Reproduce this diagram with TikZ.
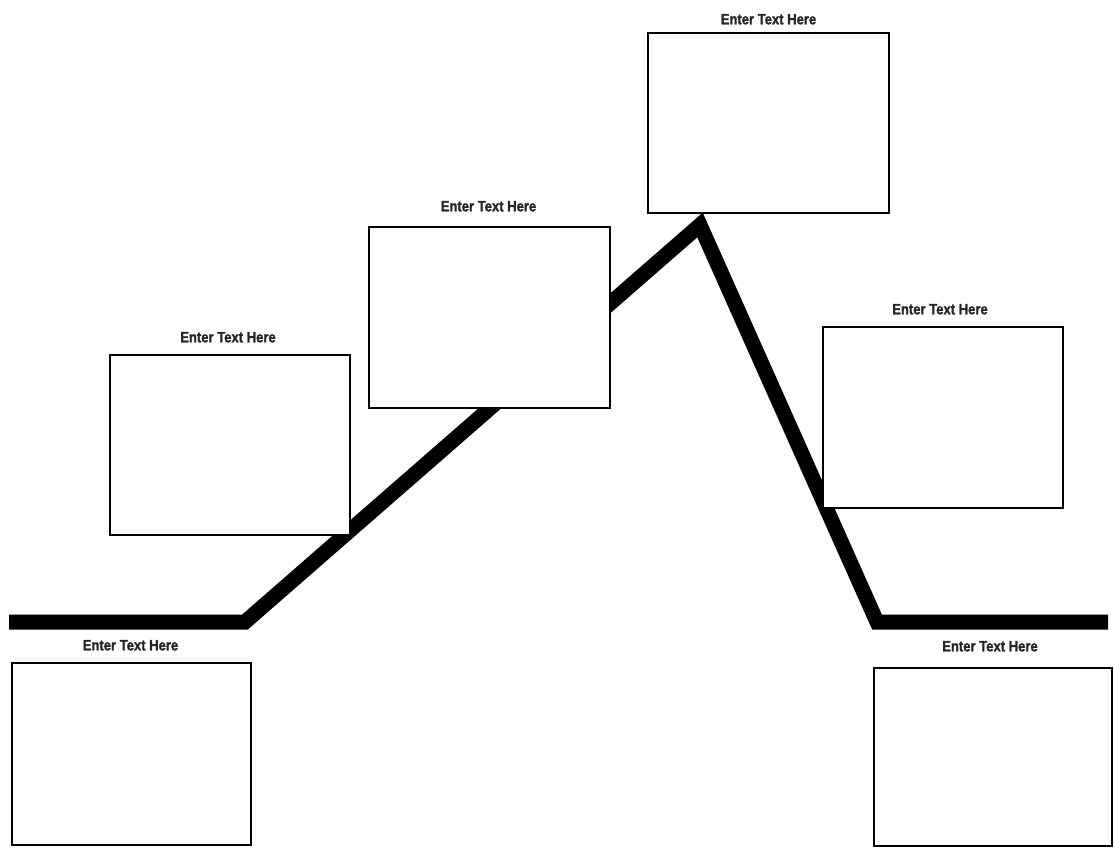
\documentclass[tikz,border=0pt]{standalone}
\usepackage{fontspec}
\newfontfamily\lblfont[FakeStretch=0.87,FakeBold=1.5]{Liberation Sans Bold}
\usetikzlibrary{positioning}
\tikzset{
  plotbox/.style={draw=black, line width=2.6pt, fill=white, rectangle,
    minimum width=240pt, minimum height=181pt, inner sep=0pt},
  lbl/.style={inner sep=0pt, font=\lblfont\fontsize{15}{15}\selectfont, text=black!85},
  plotline/.style={line width=15pt, line join=miter, line cap=butt, black}
}
\begin{document}
\begin{tikzpicture}[x=1pt,y=-1pt]
\useasboundingbox (0,0) rectangle (1114,848);
% plot line
\coordinate (start) at (9,622);
\coordinate (rise) at (245,622);
\coordinate (peak) at (700,225);
\coordinate (fall) at (877,622);
\coordinate (end) at (1108,622);
\draw[plotline] (start) -- (rise) -- (peak) -- (fall) -- (end);
% boxes
\node[plotbox, minimum width=239pt, minimum height=182pt] (b1) at (131.5,754) {};
\node[plotbox, minimum height=180pt] (b2) at (230,445) {};
\node[plotbox, minimum width=241pt] (b3) at (489.5,317.5) {};
\node[plotbox, minimum width=241pt, minimum height=180pt] (b4) at (768.5,123) {};
\node[plotbox] (b5) at (943,417.5) {};
\node[plotbox, minimum width=238pt, minimum height=178pt] (b6) at (993,757) {};
% labels
\node[lbl, above=11pt of b1, xshift=-1pt] (l1) {Enter Text Here};
\node[lbl, above=11pt of b2, xshift=-2pt] (l2) {Enter Text Here};
\node[lbl, above=14pt of b3, xshift=-1pt] (l3) {Enter Text Here};
\node[lbl, above=7pt of b4] (l4) {Enter Text Here};
\node[lbl, above=11pt of b5, xshift=-3pt] (l5) {Enter Text Here};
\node[lbl, above=15pt of b6, xshift=-3pt] (l6) {Enter Text Here};
\end{tikzpicture}
\end{document}
